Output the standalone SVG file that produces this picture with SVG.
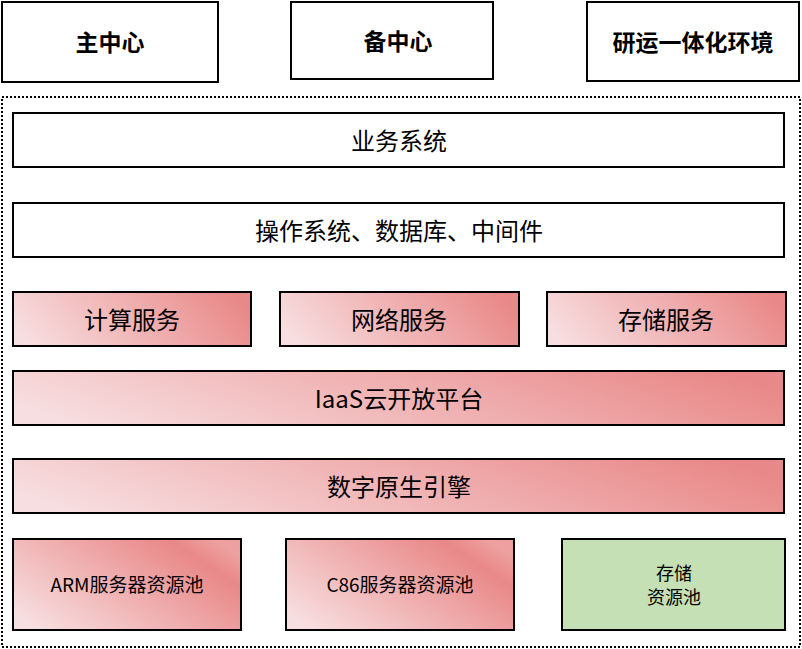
<svg xmlns="http://www.w3.org/2000/svg" width="802" height="649" viewBox="0 0 802 649">
<defs>
<linearGradient id="pg" x1="0" y1="0.6" x2="1" y2="0.4">
<stop offset="0" stop-color="#f7dee0"/>
<stop offset="1" stop-color="#e98888"/>
</linearGradient>
<linearGradient id="pg2" x1="0" y1="0.8" x2="1" y2="0.2">
<stop offset="0" stop-color="#f7dee0"/>
<stop offset="0.85" stop-color="#e98888"/>
<stop offset="1" stop-color="#eea0a0"/>
</linearGradient>
<style>
.b{stroke:#000;stroke-width:2}
.w{fill:#fff}
.p{fill:url(#pg)}
.p2{fill:url(#pg2)}
.g{fill:#c5e0b4}
.t{font-family:"Noto Sans CJK SC","Noto Sans",sans-serif;fill:#000;text-anchor:middle;dominant-baseline:central}
.h{font-size:23px;font-weight:bold}
.m{font-size:24px}
.s{font-size:19px}
.s2{font-size:18px}
</style>
</defs>
<g id="outer"><rect x="2" y="97" width="798" height="550" fill="none" stroke="#000" stroke-width="2" stroke-dasharray="2 2"/></g>
<g id="main"><rect class="b w" x="2" y="2" width="216" height="80"/><text class="t h" x="110" y="41">主中心</text></g>
<g id="backup"><rect class="b w" x="291" y="2" width="202" height="77"/><text class="t h" x="398" y="40">备中心</text></g>
<g id="devops"><rect class="b w" x="587" y="2" width="212" height="79"/><text class="t h" x="693" y="41">研运一体化环境</text></g>
<g id="biz"><rect class="b w" x="13" y="113" width="771" height="54"/><text class="t m" x="399" y="139">业务系统</text></g>
<g id="os"><rect class="b w" x="13" y="203" width="771" height="54"/><text class="t m" x="399" y="229">操作系统、数据库、中间件</text></g>
<g id="compute"><rect class="b p" x="13" y="292" width="238" height="54"/><text class="t m" x="132" y="318">计算服务</text></g>
<g id="network"><rect class="b p" x="280" y="292" width="239" height="54"/><text class="t m" x="399" y="318">网络服务</text></g>
<g id="storage"><rect class="b p" x="547" y="292" width="239" height="54"/><text class="t m" x="666" y="318">存储服务</text></g>
<g id="iaas"><rect class="b p" x="13" y="371" width="771" height="54"/><text class="t m" x="399" y="397">IaaS云开放平台</text></g>
<g id="engine"><rect class="b p" x="13" y="459" width="771" height="54"/><text class="t m" x="399" y="485">数字原生引擎</text></g>
<g id="arm"><rect class="b p2" x="13" y="539" width="228" height="91"/><text class="t s" x="127" y="583">ARM服务器资源池</text></g>
<g id="c86"><rect class="b p2" x="286" y="539" width="228" height="91"/><text class="t s" x="400" y="583">C86服务器资源池</text></g>
<g id="pool"><rect class="b g" x="562" y="539" width="223" height="91"/><text class="t s2" x="674" y="572">存储</text><text class="t s2" x="674" y="596">资源池</text></g>
<g id="connectors"></g>
</svg>
